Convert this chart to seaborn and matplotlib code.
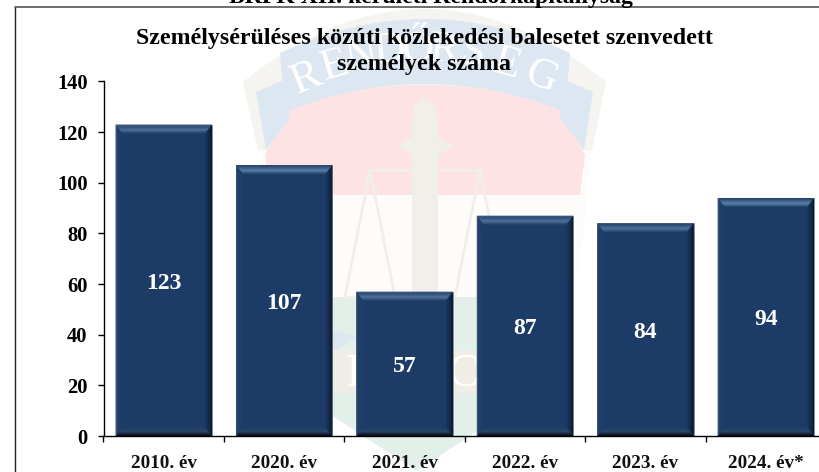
import matplotlib
matplotlib.use("Agg")
import matplotlib.pyplot as plt
import numpy as np
import pandas as pd
import seaborn as sns
from matplotlib.patches import Polygon, Circle, Rectangle
from matplotlib.lines import Line2D

years = ["2010. év", "2020. év", "2021. év", "2022. év", "2023. év", "2024. év*"]
counts = [123, 107, 57, 87, 84, 94]
y_ticks = [0, 20, 40, 60, 80, 100, 120, 140]
header = "BRFK XII. kerületi Rendőrkapitányság"
title = "Személysérüléses közúti közlekedési balesetet szenvedett\nszemélyek száma"

BAR = "#1c3b66"
sns.set_theme(style="white")
plt.rcParams["font.family"] = ["Liberation Serif", "DejaVu Serif"]
plt.rcParams["font.weight"] = "bold"

W, H = 819, 472
fig = plt.figure(figsize=(W / 100, H / 100), dpi=100, facecolor="white")

# ---- faint emblem watermark, in pixel coordinates
bg = fig.add_axes([0, 0, 1, 1], zorder=0)
bg.set_xlim(0, W); bg.set_ylim(H, 0); bg.axis("off")
BEIGE, BLUE, PINK, GREEN = "#f6f4f0", "#dde7f2", "#fde3e4", "#e3f0e9"
def arc(x0, x1, yend, ymid, n=30):
    xs = np.linspace(x0, x1, n)
    t = (xs - (x0 + x1) / 2) / ((x1 - x0) / 2)
    return list(zip(xs, ymid + (yend - ymid) * t ** 2))
bg.add_patch(Polygon(arc(243, 606, 82, 9) + [(592, 150), (583, 236), (572, 296), (505, 405), (417, 471), (332, 405), (290, 320), (265, 195), (258, 150)], fc="#fdfcfa", ec="none"))
bg.add_patch(Polygon(arc(243, 606, 82, 9) + [(592, 150), (258, 150)], fc=BEIGE, ec="none"))
bg.add_patch(Polygon([(265, 155)] + arc(290, 560, 107, 85) + [(585, 155), (580, 195), (270, 195)], fc=PINK, ec="none"))
bg.add_patch(Polygon([(256, 92), (284, 80), (290, 118), (266, 150)], fc=BLUE, ec="none"))
bg.add_patch(Polygon([(593, 92), (565, 80), (560, 118), (584, 150)], fc=BLUE, ec="none"))
bg.add_patch(Polygon(arc(280, 570, 53, 19) + arc(285, 565, 112, 84)[::-1], fc=BLUE, ec="none"))
bg.add_patch(Rectangle((331, 297), 170, 118, fc=GREEN, ec="none"))
bg.add_patch(Polygon([(331, 415), (501, 415), (417, 471)], fc=GREEN, ec="none"))
bg.add_patch(Rectangle((331, 350), 170, 43, fc="#f0ede7", ec="none"))
bg.add_patch(Polygon([(333, 330), (357, 337), (333, 351)], fc=BLUE, ec="none"))
SW = "#f1efe9"
bg.add_patch(Rectangle((412, 115), 26, 285, fc=SW, ec="none"))
bg.add_patch(Polygon([(397, 146), (412, 137), (438, 137), (453, 146), (438, 155), (412, 155)], fc=SW, ec="none"))
bg.add_patch(Circle((425, 110), 11, fc=SW, ec="none"))
for seg in [((370, 170), (480, 170)), ((370, 170), (345, 297)), ((370, 170), (395, 297)),
            ((480, 170), (455, 297)), ((480, 170), (505, 297)), ((345, 297), (395, 297))]:
    bg.add_line(Line2D(*zip(*seg), color=SW, lw=2))
letters = ["R", "E", "N", "D", "Ő", "R", "S", "É", "G"]
lx = [306, 335, 362, 390, 417, 444, 473, 507, 541]
ly = [78, 66, 57, 51, 50, 50, 54, 64, 77]
rot = [22, 16, 10, 5, 0, -5, -10, -16, -22]
for c, x, y, r in zip(letters, lx, ly, rot):
    bg.text(x, y, c, color="white", fontsize=32, fontweight="normal", rotation=r, ha="center", va="center")
bg.text(353, 375, "I", color="white", fontsize=34, fontweight="normal", ha="center", va="center")
bg.text(463, 375, "C", color="white", fontsize=34, fontweight="normal", ha="center", va="center")

# outer frame
bg.add_line(Line2D([14.5, 14.5], [7, H], color="#222222", lw=1.0))
bg.add_line(Line2D([14.5, W], [7, 7], color="#555555", lw=1.2))

# ---- chart
L, R, B, T = 103.5, 826.0, 436.0, 81.5
ax = fig.add_axes([L / W, (H - B) / H, (R - L) / W, (B - T) / H], zorder=1)
ax.patch.set_alpha(0)
df = pd.DataFrame({"year": years, "count": counts})
sns.barplot(data=df, x="year", y="count", color=BAR, saturation=1, width=0.8, ax=ax,
            edgecolor="#7f8ea3", linewidth=0.6, zorder=2)
ax.set_xlim(-0.5, len(years) - 0.5)
ax.set_ylim(0, y_ticks[-1])
ax.set_xlabel(""); ax.set_ylabel("")
ax.set_yticks(y_ticks)
ax.set_xticks(np.arange(len(years)) - 0.5, minor=True)
for s in ("top", "right"):
    ax.spines[s].set_visible(False)
for s in ("left", "bottom"):
    ax.spines[s].set_color("black"); ax.spines[s].set_linewidth(1.0)
ax.tick_params(axis="y", which="major", left=True, length=4.5, width=1, color="black", labelsize=14.8, pad=7, labelcolor="black")
ax.tick_params(axis="x", which="major", bottom=False, length=0, labelsize=13.8, pad=14, labelcolor="#111111")
ax.tick_params(axis="x", which="minor", bottom=True, length=4.5, width=1, color="black")

# bevel on each bar, in data units derived from the bars themselves
pxx = (len(years)) / (R - L)
pxy = y_ticks[-1] / (B - T)
def mix(a, b, t):
    a, b = np.array(matplotlib.colors.to_rgb(a)), np.array(matplotlib.colors.to_rgb(b))
    return tuple(a + (b - a) * t)
for bar in list(ax.patches):
    x0, y0, w, h = bar.get_x(), bar.get_y(), bar.get_width(), bar.get_height()
    x1, y1 = x0 + w, y0 + h
    n, dxp, dyp = 10, 0.8, 1.0
    for i in range(n):
        ax_, bx_ = i * dxp * pxx, (i + 1) * dxp * pxx
        ay_, by_ = i * dyp * pxy, (i + 1) * dyp * pxy
        t = i / (n - 1)
        # right band
        ax.add_patch(Polygon([(x1 - ax_, y0 + ay_), (x1 - bx_, y0 + by_), (x1 - bx_, y1 - by_), (x1 - ax_, y1 - ay_)],
                             fc=mix("#06101e", BAR, t ** 0.7), ec="none", zorder=3))
        # left band
        ax.add_patch(Polygon([(x0 + ax_, y0 + ay_), (x0 + bx_, y0 + by_), (x0 + bx_, y1 - by_), (x0 + ax_, y1 - ay_)],
                             fc=mix("#26446c", BAR, t), ec="none", zorder=3))
        # bottom band
        bot = mix("#060d18", "#2a4568", t * 2.2) if t < 0.45 else mix("#2a4568", BAR, (t - 0.45) / 0.55)
        ax.add_patch(Polygon([(x0 + ax_, y0 + ay_), (x1 - ax_, y0 + ay_), (x1 - bx_, y0 + by_), (x0 + bx_, y0 + by_)],
                             fc=bot, ec="none", zorder=3))
        # top band
        top = mix("#23426b", "#5c80a8", t / 0.55) if t < 0.55 else mix("#5c80a8", BAR, (t - 0.55) / 0.45)
        ax.add_patch(Polygon([(x0 + ax_, y1 - ay_), (x1 - ax_, y1 - ay_), (x1 - bx_, y1 - by_), (x0 + bx_, y1 - by_)],
                             fc=top, ec="none", zorder=3))

for ann in ax.bar_label(ax.containers[0], labels=[str(c) for c in counts], label_type="center",
                        color="white", fontsize=17, fontweight="bold", zorder=5):
    ann.xyann = (0, -2)

# titles
fig.text(424 / W, 1 - 51.5 / H, title, ha="center", va="center", fontsize=17.2, fontweight="bold",
         color="black", linespacing=1.26, zorder=5)
fig.text(430.5 / W, 1 - 3 / H, header, ha="center", va="baseline", fontsize=17.1, fontweight="bold",
         color="black", zorder=5)

fig.savefig("out.png", dpi=100, facecolor="white")
